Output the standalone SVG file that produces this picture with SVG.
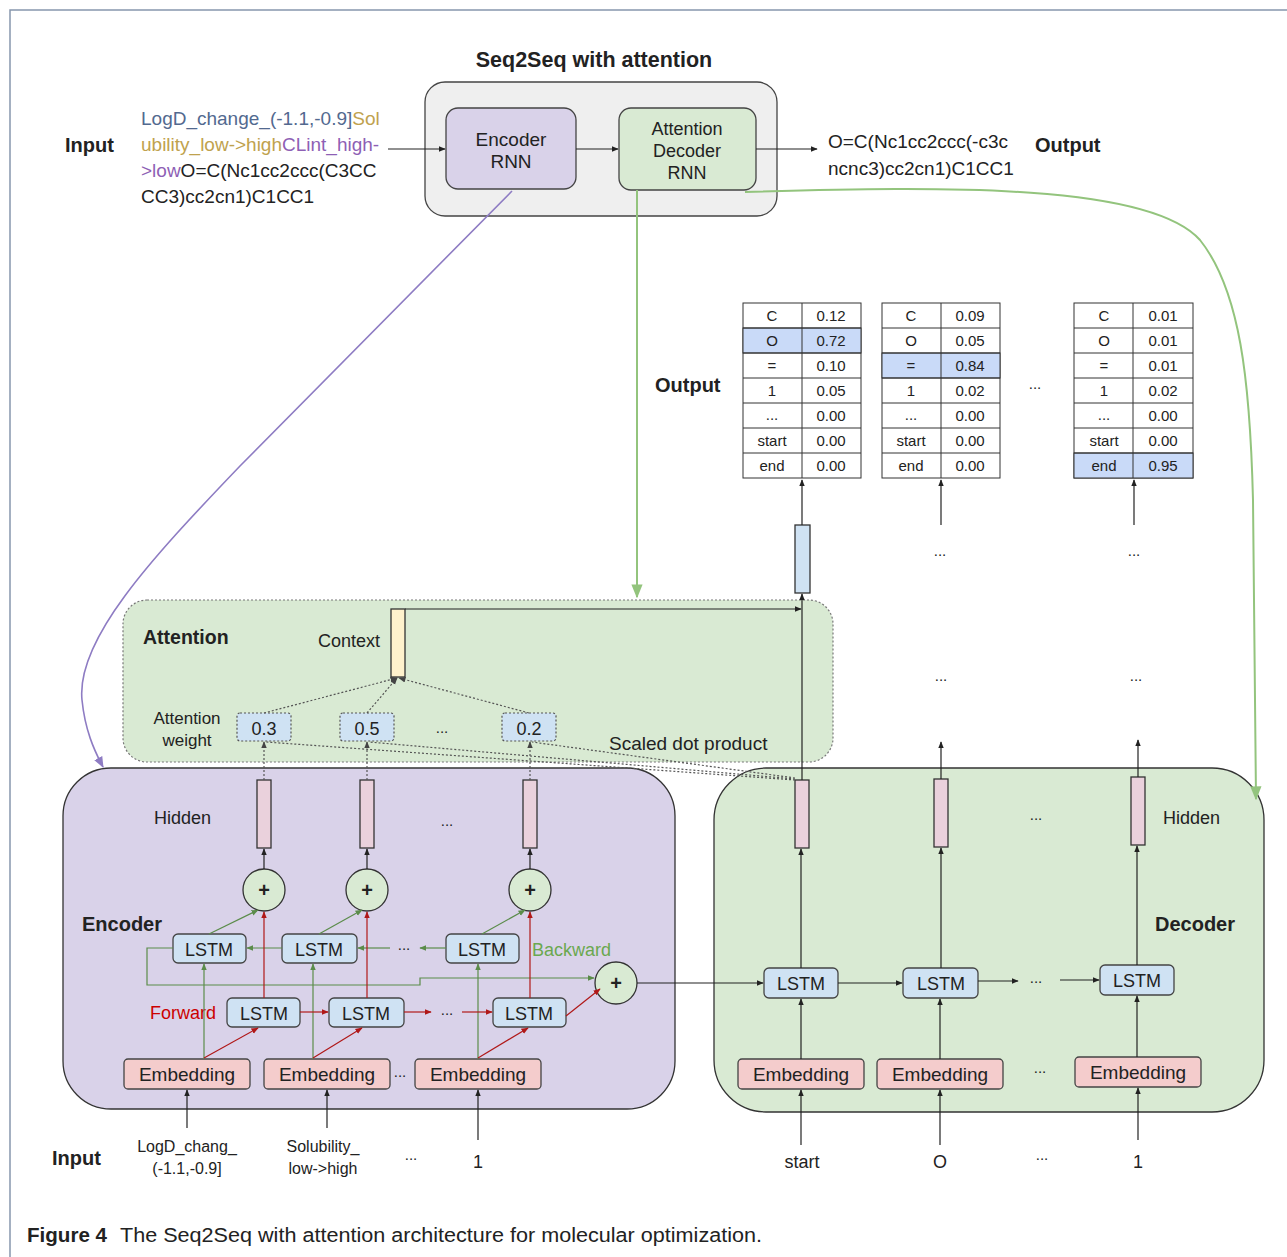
<svg xmlns="http://www.w3.org/2000/svg" width="1287" height="1257" viewBox="0 0 1287 1257">
<defs>
<marker id="ab" viewBox="0 0 10 10" refX="9" refY="5" markerWidth="6" markerHeight="6" orient="auto-start-reverse"><path d="M0,1 L10,5 L0,9 z" fill="#222"/></marker>
<marker id="ag" viewBox="0 0 10 10" refX="9" refY="5" markerWidth="6" markerHeight="6" orient="auto-start-reverse"><path d="M0,1 L10,5 L0,9 z" fill="#5b8c4a"/></marker>
<marker id="agl" viewBox="0 0 10 10" refX="9" refY="5" markerWidth="7" markerHeight="7" orient="auto-start-reverse"><path d="M0,1 L10,5 L0,9 z" fill="#93c47d"/></marker>
<marker id="ar" viewBox="0 0 10 10" refX="9" refY="5" markerWidth="6" markerHeight="6" orient="auto-start-reverse"><path d="M0,1 L10,5 L0,9 z" fill="#b01818"/></marker>
<marker id="ap" viewBox="0 0 10 10" refX="9" refY="5" markerWidth="7" markerHeight="7" orient="auto-start-reverse"><path d="M0,1 L10,5 L0,9 z" fill="#8e7cc3"/></marker>
<marker id="ad" viewBox="0 0 10 10" refX="9" refY="5" markerWidth="6" markerHeight="6" orient="auto-start-reverse"><path d="M0,1 L10,5 L0,9 z" fill="#444"/></marker>
</defs>
<style>
text{font-family:"Liberation Sans",Arial,sans-serif;fill:#222;}
.b{font-weight:bold;}
.c{text-anchor:middle;}
.t18{font-size:18px;}
.t19{font-size:19px;}
.t17{font-size:17px;}
.t15{font-size:15px;}
.t16{font-size:16px;}
.t20{font-size:20px;}
.box{stroke:#444;stroke-width:1.3;}
.lstm{fill:#cfe2f3;stroke:#444;stroke-width:1.3;}
.emb{fill:#f4cccc;stroke:#444;stroke-width:1.3;}
.hid{fill:#ead1dc;stroke:#333;stroke-width:1.3;}
.plus{fill:#d9ead3;stroke:#333;stroke-width:1.3;}
.wt{fill:#cfe2f3;stroke:#555;stroke-width:1.2;stroke-dasharray:2 2;}
.ln{stroke:#222;stroke-width:1.2;fill:none;}
.lg{stroke:#5b8c4a;stroke-width:1.2;fill:none;}
.lr{stroke:#b01818;stroke-width:1.2;fill:none;}
.dot{stroke:#555;stroke-width:1.2;fill:none;stroke-dasharray:2 2;}
.tbl{fill:#fff;stroke:#333;stroke-width:1;}
.hl{fill:#c9daf8;stroke:#333;stroke-width:1;}
</style>

<!-- page frame -->
<path d="M10,1257 L10,10 L1287,10" fill="none" stroke="#8796ad" stroke-width="1.5"/>

<!-- top section -->
<text x="594" y="67" class="b c" style="font-size:21.5px">Seq2Seq with attention</text>
<g id="seq2seq"><rect x="425" y="82" width="352" height="134" rx="20" fill="#efefef" class="box"/></g>
<g id="encoder-rnn"><rect x="446" y="108" width="130" height="81" rx="12" fill="#d9d2e9" class="box"/>
<text x="511" y="146" class="c t19">Encoder</text><text x="511" y="168" class="c t19">RNN</text></g>
<g id="decoder-rnn"><rect x="619" y="108" width="137" height="82" rx="12" fill="#d9ead3" class="box"/>
<text x="687" y="135" class="c t18">Attention</text><text x="687" y="157" class="c t18">Decoder</text><text x="687" y="179" class="c t18">RNN</text></g>

<g id="top-input">
<text x="65" y="152" class="b t20">Input</text>
<text x="141" y="125" class="t19"><tspan fill="#52698f">LogD_change_(-1.1,-0.9]</tspan><tspan fill="#bfa24e">Sol</tspan></text>
<text x="141" y="151" class="t19"><tspan fill="#bfa24e">ubility_low-&gt;high</tspan><tspan fill="#8e5fb5">CLint_high-</tspan></text>
<text x="141" y="177" class="t19"><tspan fill="#8e5fb5">&gt;low</tspan><tspan>O=C(Nc1cc2ccc(C3CC</tspan></text>
<text x="141" y="203" class="t19">CC3)cc2cn1)C1CC1</text>
</g>
<g id="top-output">
<text x="828" y="148" class="t19">O=C(Nc1cc2ccc(-c3c</text>
<text x="828" y="175" class="t19">ncnc3)cc2cn1)C1CC1</text>
<text x="1035" y="152" class="b t20">Output</text>
</g>

<!-- output tables -->
<text x="655" y="392" class="b t20">Output</text>
<g id="table1">
<rect x="743" y="303" width="118" height="175" class="tbl"/>
<rect x="743" y="328" width="118" height="25" class="hl"/>
<path d="M743,328H861M743,353H861M743,378H861M743,403H861M743,428H861M743,453H861M802,303V478" stroke="#333" stroke-width="1"/>
<g class="t15 c"><text x="772" y="321">C</text><text x="831" y="321">0.12</text>
<text x="772" y="346">O</text><text x="831" y="346">0.72</text>
<text x="772" y="371">=</text><text x="831" y="371">0.10</text>
<text x="772" y="396">1</text><text x="831" y="396">0.05</text>
<text x="772" y="420">...</text><text x="831" y="421">0.00</text>
<text x="772" y="446">start</text><text x="831" y="446">0.00</text>
<text x="772" y="471">end</text><text x="831" y="471">0.00</text></g>
</g>
<g id="table2">
<rect x="882" y="303" width="118" height="175" class="tbl"/>
<rect x="882" y="353" width="118" height="25" class="hl"/>
<path d="M882,328H1000M882,353H1000M882,378H1000M882,403H1000M882,428H1000M882,453H1000M941,303V478" stroke="#333" stroke-width="1"/>
<g class="t15 c"><text x="911" y="321">C</text><text x="970" y="321">0.09</text>
<text x="911" y="346">O</text><text x="970" y="346">0.05</text>
<text x="911" y="371">=</text><text x="970" y="371">0.84</text>
<text x="911" y="396">1</text><text x="970" y="396">0.02</text>
<text x="911" y="420">...</text><text x="970" y="421">0.00</text>
<text x="911" y="446">start</text><text x="970" y="446">0.00</text>
<text x="911" y="471">end</text><text x="970" y="471">0.00</text></g>
</g>
<text x="1035" y="389" class="t15 c">...</text>
<g id="table3">
<rect x="1074" y="303" width="119" height="175" class="tbl"/>
<rect x="1074" y="453" width="119" height="25" class="hl"/>
<path d="M1074,328H1193M1074,353H1193M1074,378H1193M1074,403H1193M1074,428H1193M1074,453H1193M1133,303V478" stroke="#333" stroke-width="1"/>
<g class="t15 c"><text x="1104" y="321">C</text><text x="1163" y="321">0.01</text>
<text x="1104" y="346">O</text><text x="1163" y="346">0.01</text>
<text x="1104" y="371">=</text><text x="1163" y="371">0.01</text>
<text x="1104" y="396">1</text><text x="1163" y="396">0.02</text>
<text x="1104" y="420">...</text><text x="1163" y="421">0.00</text>
<text x="1104" y="446">start</text><text x="1163" y="446">0.00</text>
<text x="1104" y="471">end</text><text x="1163" y="471">0.95</text></g>
</g>
<g id="dots-mid" class="t15 c">
<text x="940" y="556">...</text><text x="1134" y="556">...</text>
<text x="941" y="681">...</text><text x="1136" y="681">...</text>
</g>

<!-- attention box -->
<g id="attention">
<rect x="123" y="600" width="710" height="162" rx="24" fill="#d9ead3" stroke="#777" stroke-width="1.2" stroke-dasharray="2 2"/>
<text x="143" y="644" class="b" style="font-size:19.5px">Attention</text>
<text x="318" y="647" class="t18">Context</text>
<text x="187" y="724" class="c t17">Attention</text>
<text x="187" y="746" class="c t17">weight</text>
<text x="609" y="750" class="t19">Scaled dot product</text>
<text x="442" y="733" class="c t15">...</text>
</g>
<g id="context"><rect x="391" y="609" width="14" height="68" fill="#fff2cc" stroke="#333" stroke-width="1.3"/></g>
<g id="w1"><rect x="237" y="713" width="54" height="28" rx="3" class="wt"/><text x="264" y="735" class="c t18">0.3</text></g>
<g id="w2"><rect x="340" y="713" width="54" height="28" rx="3" class="wt"/><text x="367" y="735" class="c t18">0.5</text></g>
<g id="w3"><rect x="502" y="713" width="54" height="28" rx="3" class="wt"/><text x="529" y="735" class="c t18">0.2</text></g>
<g id="outvec"><rect x="795" y="525" width="15" height="68" fill="#cfe2f3" stroke="#333" stroke-width="1.3"/></g>

<!-- encoder box -->
<g id="encoder">
<rect x="63" y="768" width="612" height="341" rx="48" fill="#d9d2e9" stroke="#333" stroke-width="1.3"/>
<text x="154" y="824" class="t18">Hidden</text>
<text x="447" y="826" class="c t15">...</text>
<text x="82" y="931" class="b t20">Encoder</text>
<text x="532" y="956" class="t18" style="fill:#6aa84f">Backward</text>
<text x="150" y="1019" class="t18" style="fill:#cc0000">Forward</text>
<text x="404" y="950" class="c t15">...</text>
<text x="447" y="1015" class="c t15">...</text>
<text x="400" y="1077" class="c t15">...</text>
</g>
<g id="enc-h1"><rect x="257" y="780" width="14" height="68" class="hid"/></g>
<g id="enc-h2"><rect x="360" y="780" width="14" height="68" class="hid"/></g>
<g id="enc-h3"><rect x="523" y="780" width="14" height="68" class="hid"/></g>
<g id="enc-p1"><circle cx="264" cy="890" r="21" class="plus"/><text x="264" y="897" class="c b t20">+</text></g>
<g id="enc-p2"><circle cx="367" cy="890" r="21" class="plus"/><text x="367" y="897" class="c b t20">+</text></g>
<g id="enc-p3"><circle cx="530" cy="890" r="21" class="plus"/><text x="530" y="897" class="c b t20">+</text></g>
<g id="enc-p4"><circle cx="616" cy="983" r="21" class="plus"/><text x="616" y="990" class="c b t20">+</text></g>
<g id="bl1"><rect x="173" y="934" width="73" height="29" rx="5" class="lstm"/><text x="209" y="956" class="c t18">LSTM</text></g>
<g id="bl2"><rect x="282" y="934" width="75" height="29" rx="5" class="lstm"/><text x="319" y="956" class="c t18">LSTM</text></g>
<g id="bl3"><rect x="446" y="934" width="73" height="29" rx="5" class="lstm"/><text x="482" y="956" class="c t18">LSTM</text></g>
<g id="fl1"><rect x="227" y="998" width="73" height="29" rx="5" class="lstm"/><text x="264" y="1020" class="c t18">LSTM</text></g>
<g id="fl2"><rect x="329" y="998" width="75" height="29" rx="5" class="lstm"/><text x="366" y="1020" class="c t18">LSTM</text></g>
<g id="fl3"><rect x="493" y="998" width="73" height="29" rx="5" class="lstm"/><text x="529" y="1020" class="c t18">LSTM</text></g>
<g id="ee1"><rect x="124" y="1059" width="126" height="30" rx="4" class="emb"/><text x="187" y="1081" class="c t19">Embedding</text></g>
<g id="ee2"><rect x="264" y="1059" width="126" height="30" rx="4" class="emb"/><text x="327" y="1081" class="c t19">Embedding</text></g>
<g id="ee3"><rect x="415" y="1059" width="126" height="30" rx="4" class="emb"/><text x="478" y="1081" class="c t19">Embedding</text></g>

<!-- decoder box -->
<g id="decoder">
<rect x="714" y="768" width="550" height="344" rx="52" fill="#d9ead3" stroke="#333" stroke-width="1.3"/>
<text x="1036" y="820" class="c t15">...</text>
<text x="1163" y="824" class="t18">Hidden</text>
<text x="1155" y="931" class="b t20">Decoder</text>
<text x="1036" y="983" class="c t15">...</text>
<text x="1040" y="1073" class="c t15">...</text>
</g>
<g id="dh1"><rect x="795" y="780" width="14" height="68" class="hid"/></g>
<g id="dh2"><rect x="934" y="779" width="14" height="68" class="hid"/></g>
<g id="dh3"><rect x="1131" y="777" width="14" height="68" class="hid"/></g>
<g id="dl1"><rect x="764" y="968" width="74" height="30" rx="5" class="lstm"/><text x="801" y="990" class="c t18">LSTM</text></g>
<g id="dl2"><rect x="903" y="968" width="75" height="30" rx="5" class="lstm"/><text x="941" y="990" class="c t18">LSTM</text></g>
<g id="dl3"><rect x="1100" y="965" width="74" height="30" rx="5" class="lstm"/><text x="1137" y="987" class="c t18">LSTM</text></g>
<g id="de1"><rect x="738" y="1059" width="126" height="30" rx="4" class="emb"/><text x="801" y="1081" class="c t19">Embedding</text></g>
<g id="de2"><rect x="877" y="1059" width="126" height="30" rx="4" class="emb"/><text x="940" y="1081" class="c t19">Embedding</text></g>
<g id="de3"><rect x="1075" y="1057" width="126" height="30" rx="4" class="emb"/><text x="1138" y="1079" class="c t19">Embedding</text></g>

<!-- bottom inputs -->
<g id="bottom-inputs">
<text x="52" y="1165" class="b t20">Input</text>
<text x="187" y="1152" class="c t16">LogD_chang_</text>
<text x="187" y="1174" class="c t16">(-1.1,-0.9]</text>
<text x="323" y="1152" class="c t16">Solubility_</text>
<text x="323" y="1174" class="c t16">low-&gt;high</text>
<text x="411" y="1160" class="c t15">...</text>
<text x="478" y="1168" class="c t18">1</text>
<text x="802" y="1168" class="c t18">start</text>
<text x="940" y="1168" class="c t18">O</text>
<text x="1042" y="1160" class="c t15">...</text>
<text x="1138" y="1168" class="c t18">1</text>
</g>

<g id="caption">
<text x="27" y="1242" style="font-size:20px" textLength="80" lengthAdjust="spacingAndGlyphs" class="b">Figure 4</text>
<text x="120" y="1242" style="font-size:20px" textLength="642" lengthAdjust="spacingAndGlyphs">The Seq2Seq with attention architecture for molecular optimization.</text>
</g>

<!-- connectors -->
<g id="connectors">
<path class="ln" d="M388,149H445" marker-end="url(#ab)"/>
<path class="ln" d="M576,149H618" marker-end="url(#ab)"/>
<path class="ln" d="M756,149H817" marker-end="url(#ab)"/>
<path d="M512,191 L240,466 C150,560 76,640 82,700 C85,730 94,750 103,767" fill="none" stroke="#8e7cc3" stroke-width="1.6" marker-end="url(#ap)"/>
<path d="M637,190 V597" fill="none" stroke="#93c47d" stroke-width="2" marker-end="url(#agl)"/>
<path d="M745,192 C950,186 1150,184 1200,240 C1240,290 1250,380 1253,500 L1256,799" fill="none" stroke="#93c47d" stroke-width="2" marker-end="url(#agl)"/>
<path class="ln" d="M802,525V480" marker-end="url(#ab)"/>
<path class="ln" d="M941,525V480" marker-end="url(#ab)"/>
<path class="ln" d="M1134,525V480" marker-end="url(#ab)"/>
<path class="ln" d="M802,780V594" marker-end="url(#ab)"/>
<path class="ln" d="M941,779V742" marker-end="url(#ab)"/>
<path class="ln" d="M1138,777V740" marker-end="url(#ab)"/>
<path class="ln" d="M405,609H801" marker-end="url(#ab)"/>
<path class="dot" d="M264,713L397,678" marker-end="url(#ad)"/>
<path class="dot" d="M367,713L397,678" marker-end="url(#ad)"/>
<path class="dot" d="M529,713L399,678" marker-end="url(#ad)"/>
<path class="dot" d="M264,780V742" marker-end="url(#ad)"/>
<path class="dot" d="M367,780V742" marker-end="url(#ad)"/>
<path class="dot" d="M530,780V742" marker-end="url(#ad)"/>
<path class="dot" d="M795,780L266,742"/>
<path class="dot" d="M795,779L369,742"/>
<path class="dot" d="M795,778L532,742"/>
<path class="ln" d="M264,869V849" marker-end="url(#ab)"/>
<path class="ln" d="M367,869V849" marker-end="url(#ab)"/>
<path class="ln" d="M530,869V849" marker-end="url(#ab)"/>
<path class="lg" d="M209,934L258,910" marker-end="url(#ag)"/>
<path class="lg" d="M319,934L362,910" marker-end="url(#ag)"/>
<path class="lg" d="M482,934L525,910" marker-end="url(#ag)"/>
<path class="lg" d="M446,948H420" marker-end="url(#ag)"/>
<path class="lg" d="M390,948H358" marker-end="url(#ag)"/>
<path class="lg" d="M282,948H247" marker-end="url(#ag)"/>
<path class="lg" d="M173,948H147V985H420V978H594" marker-end="url(#ag)"/>
<path class="lg" d="M204,1059V964" marker-end="url(#ag)"/>
<path class="lg" d="M313,1059V964" marker-end="url(#ag)"/>
<path class="lg" d="M478,1059V964" marker-end="url(#ag)"/>
<path class="lr" d="M264,998V912" marker-end="url(#ar)"/>
<path class="lr" d="M367,998V912" marker-end="url(#ar)"/>
<path class="lr" d="M530,998V912" marker-end="url(#ar)"/>
<path class="lr" d="M300,1012H328" marker-end="url(#ar)"/>
<path class="lr" d="M404,1012H431" marker-end="url(#ar)"/>
<path class="lr" d="M462,1012H492" marker-end="url(#ar)"/>
<path class="lr" d="M566,1016L600,989" marker-end="url(#ar)"/>
<path class="lr" d="M204,1058L258,1028" marker-end="url(#ar)"/>
<path class="lr" d="M313,1058L362,1028" marker-end="url(#ar)"/>
<path class="lr" d="M478,1058L528,1028" marker-end="url(#ar)"/>
<path class="ln" d="M187,1128V1090" marker-end="url(#ab)"/>
<path class="ln" d="M327,1128V1090" marker-end="url(#ab)"/>
<path class="ln" d="M478,1140V1090" marker-end="url(#ab)"/>
<path class="ln" d="M637,983H763" marker-end="url(#ab)"/>
<path class="ln" d="M838,983H902" marker-end="url(#ab)"/>
<path class="ln" d="M978,981H1018" marker-end="url(#ab)"/>
<path class="ln" d="M1060,980H1099" marker-end="url(#ab)"/>
<path class="ln" d="M801,968V849" marker-end="url(#ab)"/>
<path class="ln" d="M941,968V848" marker-end="url(#ab)"/>
<path class="ln" d="M1137,965V846" marker-end="url(#ab)"/>
<path class="ln" d="M801,1059V999" marker-end="url(#ab)"/>
<path class="ln" d="M940,1059V999" marker-end="url(#ab)"/>
<path class="ln" d="M1137,1057V996" marker-end="url(#ab)"/>
<path class="ln" d="M801,1145V1090" marker-end="url(#ab)"/>
<path class="ln" d="M940,1145V1090" marker-end="url(#ab)"/>
<path class="ln" d="M1138,1140V1088" marker-end="url(#ab)"/>
</g>
</svg>
